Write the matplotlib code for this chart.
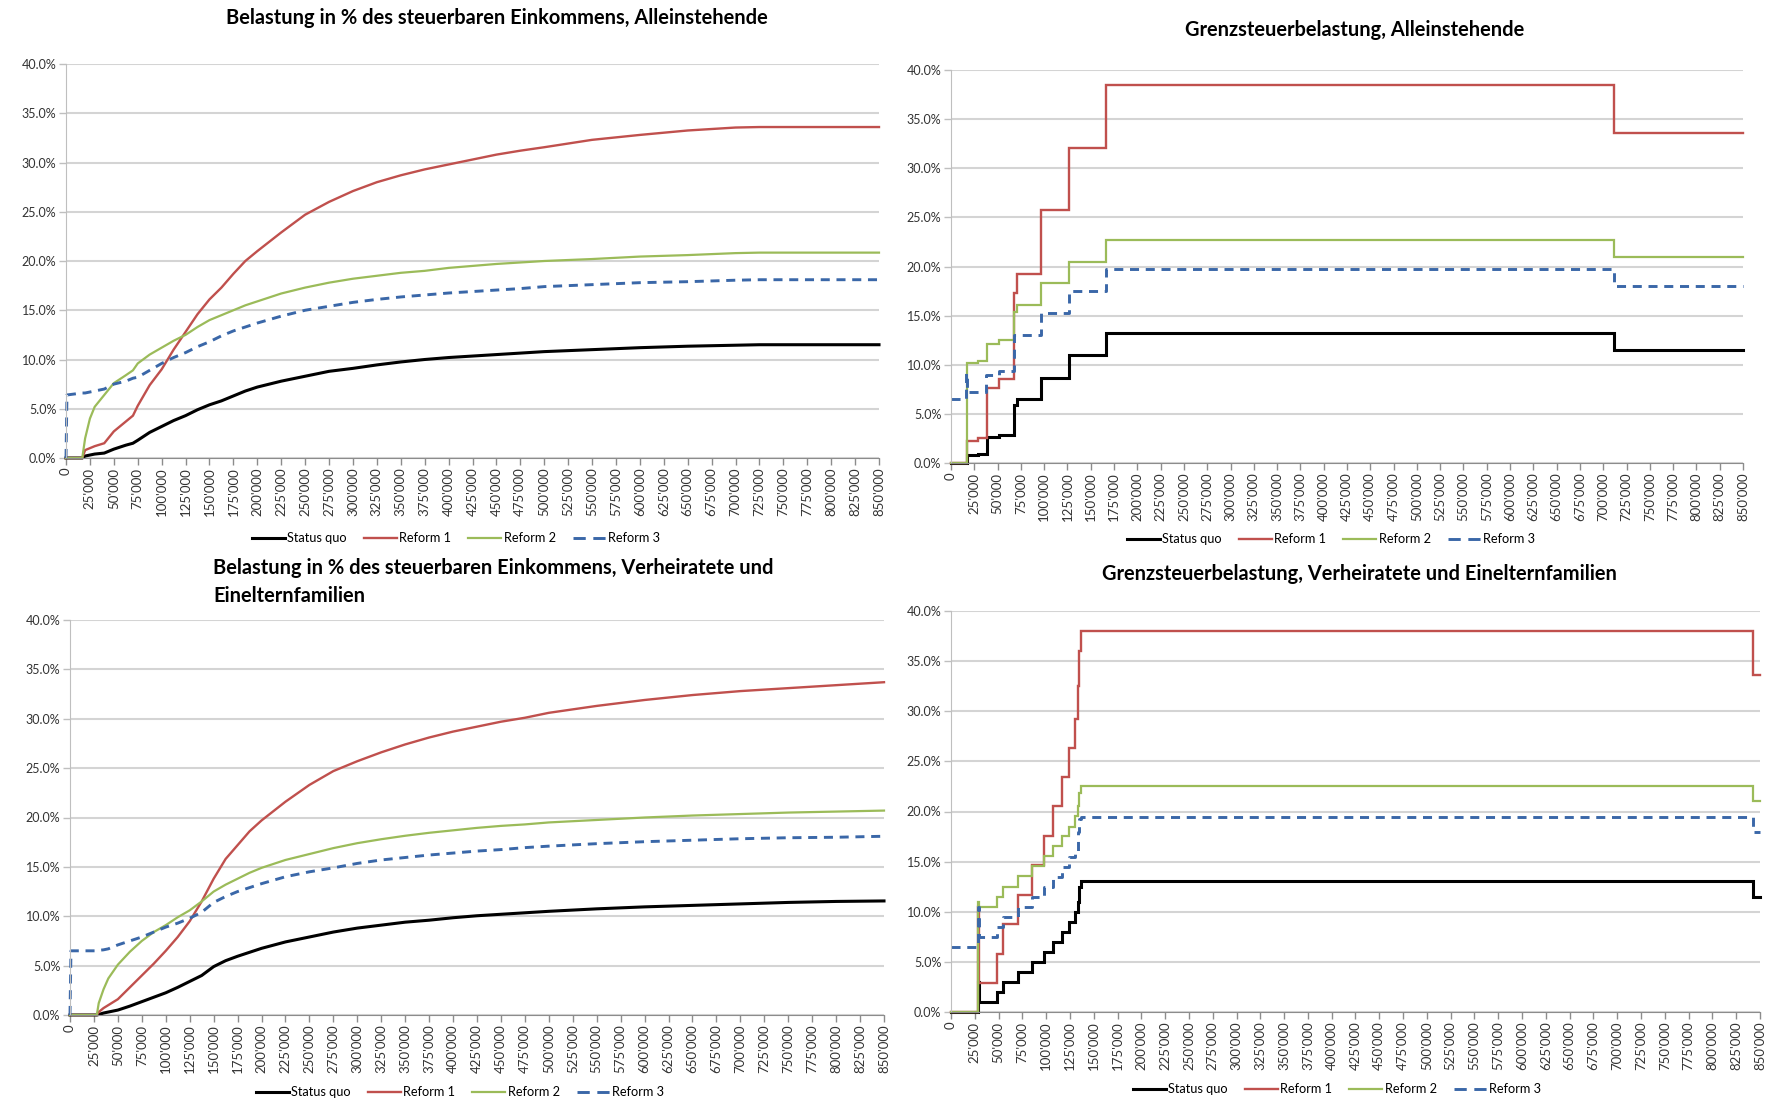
import matplotlib
matplotlib.use("Agg")
import matplotlib.pyplot as plt
from matplotlib.lines import Line2D
from matplotlib.ticker import FuncFormatter, MultipleLocator

plt.rcParams['font.family'] = ['Lato', 'DejaVu Sans']

# ---------------- DATA (values in %) ----------------
series_names = ["Status quo", "Reform 1", "Reform 2", "Reform 3"]

# Average tax burden, singles (top-left)
tl_income = [0, 1000, 17000, 20000, 25000, 30000, 40000, 50000, 62500, 70000, 75000,
             87500, 100000, 112500, 125000, 137500, 150000, 162500, 175000, 187500,
             200000, 225000, 250000, 275000, 300000, 325000, 350000, 375000, 400000,
             425000, 450000, 475000, 500000, 550000, 600000, 650000, 700000, 725000,
             750000, 800000, 850000]
tl_status_quo = [0, 0, 0, 0.2, 0.3, 0.4, 0.5, 0.9, 1.3, 1.5, 1.8, 2.6, 3.2, 3.8, 4.3, 4.9,
                 5.4, 5.8, 6.3, 6.8, 7.2, 7.8, 8.3, 8.8, 9.1, 9.45, 9.75, 10.0, 10.2, 10.35,
                 10.5, 10.65, 10.8, 11.0, 11.2, 11.35, 11.45, 11.5, 11.5, 11.5, 11.5]
tl_reform1 = [0, 0, 0, 0.8, 1.0, 1.2, 1.5, 2.7, 3.7, 4.3, 5.3, 7.4, 9.0, 11.0, 12.8, 14.6,
              16.1, 17.3, 18.7, 20.0, 21.0, 22.9, 24.7, 26.0, 27.1, 28.0, 28.7, 29.3, 29.8,
              30.3, 30.8, 31.2, 31.55, 32.3, 32.8, 33.25, 33.55, 33.6, 33.6, 33.6, 33.6]
tl_reform2 = [0, 0, 0, 2.0, 4.0, 5.2, 6.4, 7.6, 8.4, 8.9, 9.6, 10.5, 11.2, 11.9, 12.5, 13.3,
              14.0, 14.5, 15.0, 15.5, 15.9, 16.7, 17.3, 17.8, 18.2, 18.5, 18.8, 19.0, 19.3,
              19.5, 19.7, 19.85, 20.0, 20.2, 20.45, 20.6, 20.8, 20.85, 20.85, 20.85, 20.85]
tl_reform3 = [0, 6.4, 6.6, 6.6, 6.7, 6.8, 7.0, 7.5, 7.8, 8.1, 8.2, 8.9, 9.6, 10.2, 10.7, 11.3,
              11.8, 12.4, 12.9, 13.3, 13.7, 14.4, 15.0, 15.4, 15.8, 16.1, 16.35, 16.55, 16.75,
              16.9, 17.05, 17.2, 17.4, 17.6, 17.8, 17.9, 18.05, 18.1, 18.1, 18.1, 18.1]

# Average tax burden, married / single-parent families (bottom-left)
bl_income = [0, 1000, 25000, 28000, 30000, 35000, 40000, 50000, 62500, 75000, 87500,
             100000, 112500, 125000, 137500, 150000, 162500, 175000, 187500, 200000,
             225000, 250000, 275000, 300000, 325000, 350000, 375000, 400000, 425000,
             450000, 475000, 500000, 550000, 600000, 650000, 700000, 750000, 800000, 850000]
bl_status_quo = [0, 0, 0, 0, 0.05, 0.2, 0.3, 0.5, 0.9, 1.35, 1.8, 2.25, 2.8, 3.4, 4.0, 4.9,
                 5.5, 5.95, 6.35, 6.75, 7.4, 7.9, 8.4, 8.8, 9.1, 9.4, 9.6, 9.85, 10.05, 10.2,
                 10.35, 10.5, 10.75, 10.95, 11.1, 11.25, 11.4, 11.5, 11.55]
bl_reform1 = [0, 0, 0, 0, 0.3, 0.7, 1.0, 1.6, 2.8, 4.0, 5.2, 6.5, 7.9, 9.5, 11.5, 13.8,
              15.8, 17.2, 18.6, 19.7, 21.6, 23.3, 24.7, 25.7, 26.6, 27.4, 28.1, 28.7, 29.2,
              29.7, 30.1, 30.6, 31.3, 31.9, 32.4, 32.8, 33.1, 33.4, 33.7]
bl_reform2 = [0, 0, 0, 0, 1.2, 2.6, 3.7, 5.1, 6.4, 7.5, 8.4, 9.1, 9.9, 10.6, 11.5, 12.5,
              13.2, 13.8, 14.4, 14.9, 15.7, 16.3, 16.9, 17.4, 17.8, 18.15, 18.45, 18.7, 18.95,
              19.15, 19.3, 19.5, 19.75, 20.0, 20.2, 20.35, 20.5, 20.6, 20.7]
bl_reform3 = [0, 6.5, 6.5, 6.5, 6.55, 6.6, 6.7, 7.1, 7.5, 7.9, 8.4, 8.9, 9.3, 9.8, 10.4, 11.4,
              12.0, 12.5, 12.9, 13.3, 14.0, 14.5, 14.9, 15.35, 15.7, 15.95, 16.2, 16.4, 16.6,
              16.75, 16.95, 17.1, 17.35, 17.55, 17.7, 17.85, 17.95, 18.0, 18.1]

# Marginal tax burden, singles (top-right) - step start points
tr_income = [0, 16000, 17000, 29000, 38000, 39000, 52000, 68000, 71000, 97000, 127000,
             166000, 712000, 850000]
tr_status_quo = [0, 0, 0.8, 0.9, 0.9, 2.6, 2.9, 5.9, 6.5, 8.7, 11.0, 13.2, 11.5, 11.5]
tr_reform1 = [0, 0, 2.2, 2.5, 2.5, 7.6, 8.6, 17.3, 19.2, 25.7, 32.1, 38.5, 33.6, 33.6]
tr_reform2 = [0, 0, 10.2, 10.4, 10.4, 12.1, 12.5, 15.4, 16.1, 18.3, 20.5, 22.7, 21.0, 21.0]
tr_reform3 = [6.5, 9.2, 7.2, 7.2, 9.0, 9.0, 9.4, 13.0, 13.0, 15.3, 17.5, 19.7, 18.0, 18.0]

# Marginal tax burden, married / single-parent families (bottom-right)
br_income = [0, 28000, 29000, 48000, 55000, 70000, 85000, 98000, 107000, 117000, 124000,
             130000, 133000, 135000, 137000, 843000, 850000]
br_status_quo = [0, 3.0, 1.0, 2.0, 3.0, 4.0, 5.0, 6.0, 7.0, 8.0, 9.0, 10.0, 11.0, 12.5,
                 13.1, 11.5, 11.5]
br_reform1 = [0, 10.5, 2.9, 5.8, 8.8, 11.7, 14.7, 17.6, 20.5, 23.4, 26.3, 29.2, 32.5, 36.0,
              38.0, 33.6, 33.6]
br_reform2 = [0, 11.0, 10.5, 11.5, 12.5, 13.6, 14.6, 15.6, 16.6, 17.6, 18.5, 19.6, 20.5,
              21.8, 22.5, 21.0, 21.0]
br_reform3 = [6.5, 10.5, 7.5, 8.5, 9.5, 10.5, 11.5, 12.5, 13.5, 14.5, 15.5, 16.0, 18.0,
              19.3, 19.5, 18.0, 18.0]

titles = {
    "tl": "Belastung in % des steuerbaren Einkommens, Alleinstehende",
    "tr": "Grenzsteuerbelastung, Alleinstehende",
    "bl": "Belastung in % des steuerbaren Einkommens, Verheiratete und\nEinelternfamilien",
    "br": "Grenzsteuerbelastung, Verheiratete und Einelternfamilien",
}

# ---------------- STYLE ----------------
colors = ["#000000", "#C0504D", "#9BBB59", "#3A67A8"]
widths = [2.2, 1.7, 1.6, 2.1]

W, H = 1772, 1103
fig = plt.figure(figsize=(W / 100, H / 100), dpi=100)


def px_axes(l, t, r, b):
    return fig.add_axes([l / W, 1 - b / H, (r - l) / W, (b - t) / H])


def style(ax):
    ax.set_xlim(0, 850000)
    ax.set_ylim(0, 40)
    ax.xaxis.set_major_locator(MultipleLocator(25000))
    ax.yaxis.set_major_locator(MultipleLocator(5))
    ax.xaxis.set_major_formatter(FuncFormatter(lambda v, p: f"{int(round(v)):,}".replace(",", "'")))
    ax.yaxis.set_major_formatter(FuncFormatter(lambda v, p: f"{v:.1f}%"))
    ax.tick_params(axis='x', labelrotation=90, labelsize=9.5, labelcolor='#333333',
                   length=5, width=1, color='#8C8C8C', pad=2)
    ax.tick_params(axis='y', labelsize=9, labelcolor='#333333',
                   length=5, width=1, color='#BFBFBF', pad=2)
    ax.grid(axis='y', color='#D4D4D4', lw=1.5)
    ax.set_axisbelow(True)
    for s in ('top', 'right'):
        ax.spines[s].set_visible(False)
    ax.spines['left'].set_color('#BFBFBF')
    ax.spines['bottom'].set_color('#8C8C8C')


def draw(ax, x, ys, steps, legend_center):
    handles = []
    for i, (y, name) in enumerate(zip(ys, series_names)):
        kw = dict(color=colors[i], lw=widths[i], label=name, clip_on=False,
                  solid_joinstyle='miter')
        if steps:
            kw['drawstyle'] = 'steps-post'
        if i == 3:
            kw['dashes'] = (3.1, 2.3)
        ax.plot(x, y, **kw)
        hk = dict(color=colors[i], lw=widths[i])
        if i == 3:
            hk['dashes'] = (4.2, 2.6)
        handles.append(Line2D([], [], **hk))
    style(ax)
    cx, cy = legend_center
    ax.legend(handles, series_names, loc='center', bbox_to_anchor=(cx / W, 1 - cy / H),
              bbox_transform=fig.transFigure, ncol=4, frameon=False, fontsize=9.2,
              handlelength=2.6, handletextpad=0.2, columnspacing=1.3)


ax_tl = px_axes(66, 64, 879, 458)
draw(ax_tl, tl_income, [tl_status_quo, tl_reform1, tl_reform2, tl_reform3], False, (456, 538))
fig.text(497 / W, 1 - 17.5 / H, titles["tl"], ha='center', va='center', fontsize=14.4,
         fontweight='bold')

ax_tr = px_axes(951, 70, 1743, 463)
draw(ax_tr, tr_income, [tr_status_quo, tr_reform1, tr_reform2, tr_reform3], True, (1331, 539))
fig.text(1355 / W, 1 - 30 / H, titles["tr"], ha='center', va='center', fontsize=14.4,
         fontweight='bold')

ax_bl = px_axes(70, 620, 884, 1015)
draw(ax_bl, bl_income, [bl_status_quo, bl_reform1, bl_reform2, bl_reform3], False, (460, 1092))
fig.text(213 / W, 1 - 558 / H, titles["bl"], ha='left', va='top', fontsize=14.4,
         fontweight='bold', linespacing=1.5)

ax_br = px_axes(951, 611, 1760, 1012)
draw(ax_br, br_income, [br_status_quo, br_reform1, br_reform2, br_reform3], True, (1337, 1089))
fig.text(1359 / W, 1 - 574 / H, titles["br"], ha='center', va='center', fontsize=14.4,
         fontweight='bold')

fig.savefig("out.png", dpi=100, facecolor='white')
